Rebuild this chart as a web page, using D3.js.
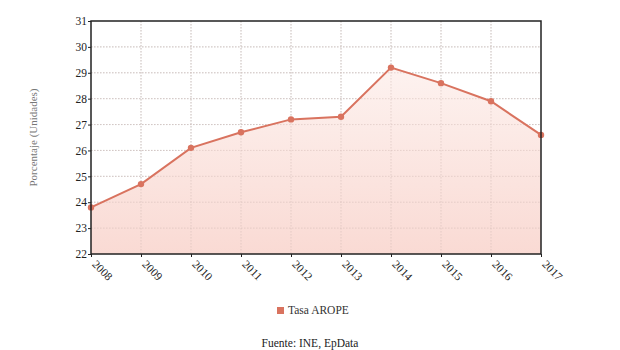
<!DOCTYPE html>
<html><head><meta charset="utf-8">
<script src="https://cdn.jsdelivr.net/npm/d3@7"></script>
<style>body{margin:0;background:#fff}svg{display:block}</style>
</head><body>
<svg id="c" width="620" height="350"></svg>
<script>
const years = ["2008","2009","2010","2011","2012","2013","2014","2015","2016","2017"];
const values = [23.8,24.7,26.1,26.7,27.2,27.3,29.2,28.6,27.9,26.6];
const yTicks = [22,23,24,25,26,27,28,29,30,31];
const seriesName = "Tasa AROPE";
const yLabel = "Porcentaje (Unidades)";
const source = "Fuente: INE, EpData";

const svg = d3.select("#c");
const L=91, R=541, T=21, B=254;
const x = d3.scalePoint().domain(years).range([L,R]);
const y = d3.scaleLinear().domain([22,31]).range([B,T]);
const font = "'Liberation Serif', 'Times New Roman', serif";
const col = "#d9735f";

const defs = svg.append("defs");
const g = defs.append("linearGradient").attr("id","gr").attr("x1",0).attr("y1",0).attr("x2",0).attr("y2",1);
g.append("stop").attr("offset","0%").attr("stop-color","#fdf1ee");
g.append("stop").attr("offset","100%").attr("stop-color","#f9d6cf");

function grid(stroke, op){
  svg.append("g").selectAll("line").data(yTicks.slice(1,-1)).join("line")
    .attr("x1",L).attr("x2",R).attr("y1",d=>y(d)).attr("y2",d=>y(d))
    .attr("stroke",stroke).attr("stroke-dasharray","1.5,1.5").attr("stroke-width",1).attr("opacity",op);
  svg.append("g").selectAll("line").data(years.slice(1,-1)).join("line")
    .attr("y1",T).attr("y2",B).attr("x1",d=>x(d)).attr("x2",d=>x(d))
    .attr("stroke",stroke).attr("stroke-dasharray","1.5,1.5").attr("stroke-width",1).attr("opacity",op);
}
grid("#cfcfcf",1);

const data = years.map((k,i)=>({k,v:values[i]}));
svg.append("path").datum(data)
  .attr("d", d3.area().x(d=>x(d.k)).y0(B).y1(d=>y(d.v)))
  .attr("fill","url(#gr)").attr("opacity",0.9);
grid("#d8c0bb",0.5);

svg.append("path").datum(data)
  .attr("d", d3.line().x(d=>x(d.k)).y(d=>y(d.v)))
  .attr("fill","none").attr("stroke",col).attr("stroke-width",2);
svg.append("g").selectAll("circle").data(data).join("circle")
  .attr("cx",d=>x(d.k)).attr("cy",d=>y(d.v)).attr("r",3.2).attr("fill",col);

svg.append("rect").attr("x",L).attr("y",T).attr("width",R-L).attr("height",B-T)
  .attr("fill","none").attr("stroke","#222").attr("stroke-width",1.5);

const ya = svg.append("g").attr("transform",`translate(${L},0)`)
  .call(d3.axisLeft(y).tickValues(yTicks).tickSize(3).tickFormat(d3.format("d")));
ya.select(".domain").remove();
ya.selectAll("line").attr("stroke","#222");
ya.selectAll("text").attr("font-family",font).attr("font-size",11.5).attr("fill","#222").attr("x",-4);

const xa = svg.append("g").attr("transform",`translate(0,${B})`)
  .call(d3.axisBottom(x).tickSize(3));
xa.select(".domain").remove();
xa.selectAll("line").attr("stroke","#222");
xa.selectAll("text").attr("font-family",font).attr("font-size",11.5).attr("fill","#222")
  .attr("text-anchor","start").attr("dy",0).attr("y",0)
  .attr("transform","translate(0,11) rotate(45)");

svg.append("text").attr("transform",`translate(37,${(T+B)/2}) rotate(-90)`)
  .attr("text-anchor","middle").attr("font-family",font).attr("font-size",11).attr("fill","#777").text(yLabel);

svg.append("rect").attr("x",277).attr("y",307).attr("width",7).attr("height",7).attr("fill",col);
svg.append("text").attr("x",288).attr("y",314).attr("font-family",font).attr("font-size",11.5).attr("fill","#333").text(seriesName);

svg.append("text").attr("x",310).attr("y",347).attr("text-anchor","middle")
  .attr("font-family",font).attr("font-size",11.5).attr("fill","#222").text(source);
</script>
</body></html>
